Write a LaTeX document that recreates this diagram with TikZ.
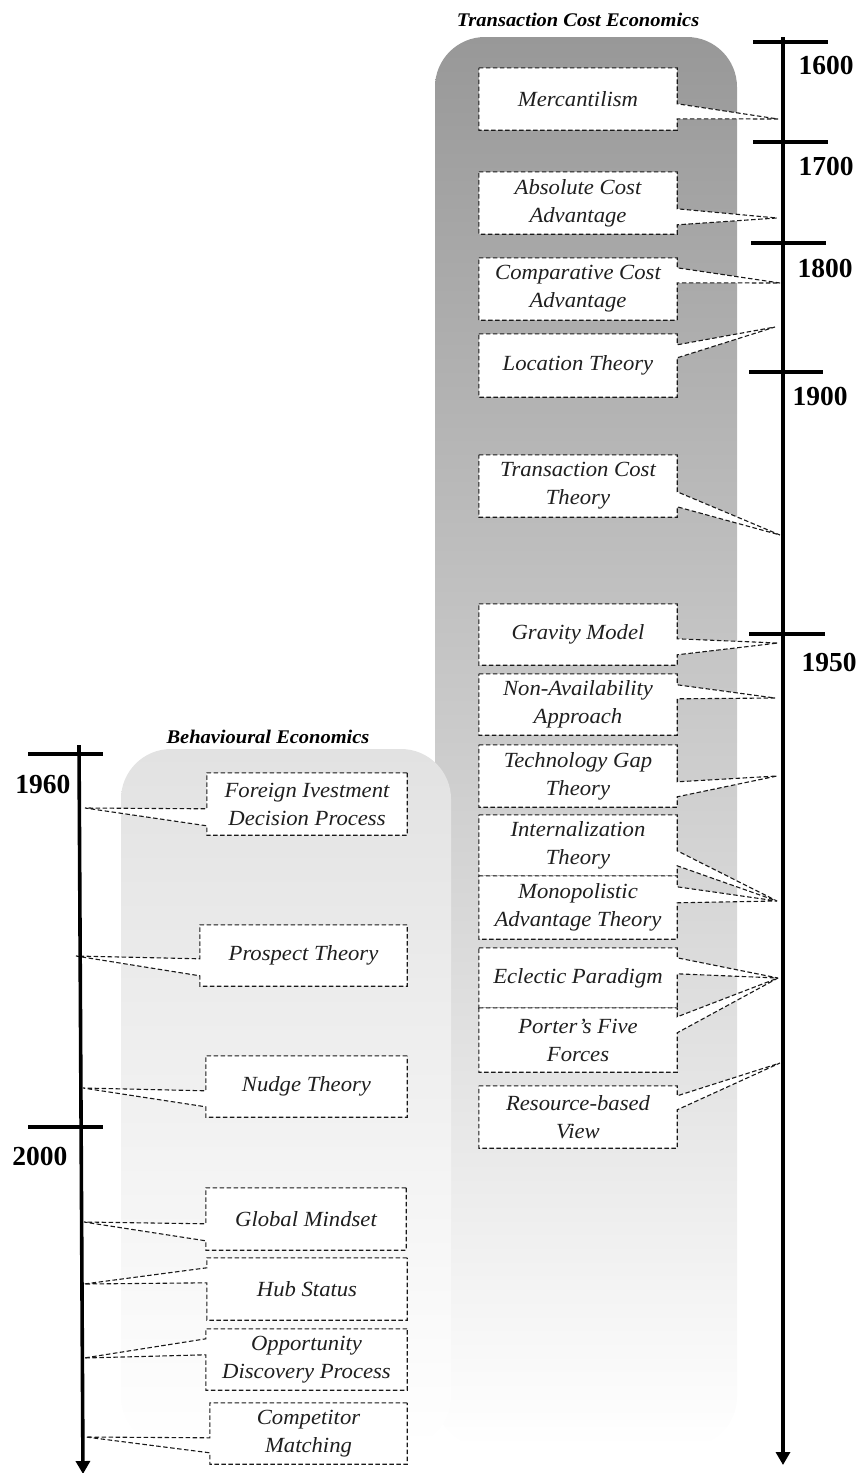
\documentclass[tikz,border=0pt]{standalone}
\usepackage{fontspec}
\setmainfont{Liberation Serif}
\newfontfamily\itemfam{Liberation Serif}[FakeStretch=1.05]
\newfontfamily\headfam{Liberation Serif}[FakeStretch=1.06]
\usetikzlibrary{arrows.meta}

\newcommand{\itemtext}{\fontsize{21.6}{28}\selectfont\itemfam\itshape}
\newcommand{\yeartext}{\fontsize{27.5}{30}\selectfont\bfseries}
\newcommand{\headtext}{\fontsize{19.3}{22}\selectfont\headfam\bfseries\itshape}

\definecolor{tcetop}{RGB}{152,152,152}
\definecolor{betop}{RGB}{226,226,226}

\pgfdeclarelayer{panels}
\pgfdeclarelayer{boxes}
\pgfsetlayers{panels,boxes,main}

\tikzset{
  itembox/.style={minimum width=198pt, minimum height=62pt, inner sep=0pt,
    align=center, font=\itemtext, text=black!88},
  outline/.style={draw=black!90, line width=1.1pt,
    dash pattern=on 4.5pt off 2.5pt, fill=white},
  axisline/.style={line width=3.6pt},
  tickline/.style={line width=3.4pt},
  year/.style={font=\yeartext, inner sep=0pt},
  heading/.style={font=\headtext, inner sep=0pt},
}

% dashed callout pointing right: node, tip, offsets of the pointer base below the top edge
\newcommand{\calloutR}[4]{%
  \begin{pgfonlayer}{boxes}
    \draw[outline] (#1.north west) -- (#1.north east) -- ([yshift=-#3pt]#1.north east)
      -- (#2) -- ([yshift=-#4pt]#1.north east) -- (#1.south east) -- (#1.south west) -- cycle;
  \end{pgfonlayer}}
% dashed callout pointing left
\newcommand{\calloutL}[4]{%
  \begin{pgfonlayer}{boxes}
    \draw[outline] (#1.north east) -- (#1.north west) -- ([yshift=-#3pt]#1.north west)
      -- (#2) -- ([yshift=-#4pt]#1.north west) -- (#1.south west) -- (#1.south east) -- cycle;
  \end{pgfonlayer}}

\begin{document}
\begin{tikzpicture}[x=1pt, y=-1pt]
\useasboundingbox (0,0) rectangle (863,1473);

% background panels
\begin{pgfonlayer}{panels}
  \shade[top color=tcetop, bottom color=white, rounded corners=50pt]
    (435,37) rectangle (737,1447);
  \shade[top color=betop, bottom color=white, rounded corners=50pt]
    (121,749) rectangle (451,1447);
\end{pgfonlayer}

\node[heading] (tcehead) at (578,20) {Transaction Cost Economics};
\node[heading] (behead) at (268,737) {Behavioural Economics};

% right time axis
\coordinate (rtop) at (783,37);
\coordinate (rbot) at (783,1465);
\draw[axisline, -{Triangle[width=14pt,length=13pt]}] (rtop) -- (rbot);
\draw[tickline] (753,42) -- (828,42);
\draw[tickline] (753,142) -- (828,142);
\draw[tickline] (751,243) -- (826,243);
\draw[tickline] (749,372) -- (823,372);
\draw[tickline] (749,634) -- (825,634);
\node[year] (y1600) at (826,65) {1600};
\node[year] (y1700) at (826,166) {1700};
\node[year] (y1800) at (825,268) {1800};
\node[year] (y1900) at (820,396) {1900};
\node[year] (y1950) at (829,662) {1950};

% left time axis
\coordinate (ltop) at (79,745);
\coordinate (lbot) at (83,1474);
\draw[axisline, -{Triangle[width=14pt,length=13pt]}] (ltop) -- (lbot);
\draw[tickline] (28,754) -- (103,754);
\draw[tickline] (28,1127) -- (103,1127);
\node[year] (y1960) at (43,784) {1960};
\node[year] (y2000) at (40,1156) {2000};

% pointer tips on the axes
\coordinate (tmerc) at (778,119);
\coordinate (tabs) at (777,218);
\coordinate (tcomp) at (780,283);
\coordinate (tloc) at (775,327);
\coordinate (ttct) at (780,535);
\coordinate (tgrav) at (778,643);
\coordinate (tnon) at (775,698);
\coordinate (ttech) at (777,776);
\coordinate (tintmono) at (777,901);
\coordinate (teclport) at (778,978);
\coordinate (trbv) at (780,1063);

\coordinate (tfidp) at (85,808);
\coordinate (tprosp) at (76,956);
\coordinate (tnudge) at (83,1088);
\coordinate (tglob) at (84,1222);
\coordinate (thub) at (84,1284);
\coordinate (topp) at (84,1358);
\coordinate (tcm) at (86,1437);

% transaction cost economics
\node[itembox] (merc) at (578,99) {Mercantilism};
\node[itembox] (abs) at (578,203) {Absolute Cost\\Advantage};
\node[itembox] (comp) at (578,289) {Comparative Cost\\Advantage};
\node[itembox, minimum height=63pt] (loc) at (578,365.5) {Location Theory};
\node[itembox] (tct) at (578,486) {Transaction Cost\\Theory};
\node[itembox, minimum height=61pt] (grav) at (578,634.5) {Gravity Model};
\node[itembox, minimum height=61pt] (nonav) at (578,704.5) {Non-Availability\\Approach};
\node[itembox] (tech) at (578,776) {Technology Gap\\Theory};
\node[itembox, minimum height=61pt] (intern) at (578,845.5) {Internalization\\Theory};
\node[itembox, minimum height=63pt] (mono) at (578,907.5) {Monopolistic\\Advantage Theory};
\node[itembox, minimum height=60pt] (ecl) at (578,978) {Eclectic Paradigm};
\node[itembox, minimum height=64pt] (porter) at (578,1040) {Porter’s Five\\Forces};
\node[itembox] (rbv) at (578,1117) {Resource-based\\View};

\calloutR{merc}{tmerc}{36}{51}
\calloutR{abs}{tabs}{37}{53}
\calloutR{comp}{tcomp}{10}{25}
\calloutR{loc}{tloc}{11}{24}
\calloutR{tct}{ttct}{37}{52}
\calloutR{grav}{tgrav}{35}{51}
\calloutR{nonav}{tnon}{11}{25}
\calloutR{tech}{ttech}{37}{52}
\calloutR{intern}{tintmono}{36}{51}
\calloutR{mono}{tintmono}{11}{27}
\calloutR{ecl}{teclport}{10}{26}
\calloutR{porter}{teclport}{9}{25}
\calloutR{rbv}{trbv}{10}{24}

% behavioural economics
\node[itembox, minimum width=200pt] (fidp) at (307,804) {Foreign Ivestment\\Decision Process};
\node[itembox, minimum width=207pt, minimum height=61pt] (prosp) at (303.5,955.5) {Prospect Theory};
\node[itembox, minimum width=201pt, minimum height=61pt] (nudge) at (306.5,1086.5) {Nudge Theory};
\node[itembox, minimum width=200pt] (glob) at (306,1219) {Global Mindset};
\node[itembox, minimum width=200pt] (hub) at (307,1289) {Hub Status};
\node[itembox, minimum width=201pt, minimum height=61pt] (opp) at (306.5,1359.5) {Opportunity\\Discovery Process};
\node[itembox, minimum width=197pt, minimum height=61pt] (cm) at (308.5,1433.5) {Competitor\\Matching};

\calloutL{fidp}{tfidp}{36}{53}
\calloutL{prosp}{tprosp}{34}{51}
\calloutL{nudge}{tnudge}{35}{51}
\calloutL{glob}{tglob}{36}{53}
\calloutL{hub}{thub}{10}{25}
\calloutL{opp}{topp}{10}{26}
\calloutL{cm}{tcm}{35}{50}
\end{tikzpicture}
\end{document}
